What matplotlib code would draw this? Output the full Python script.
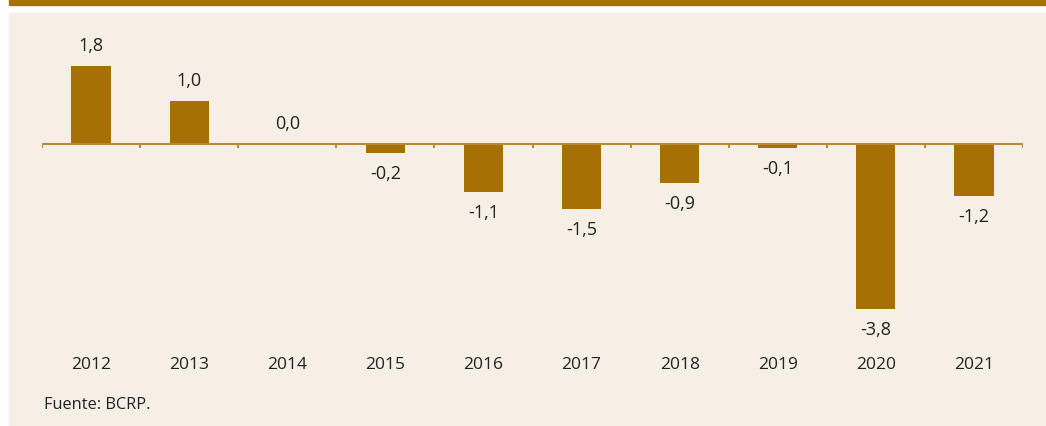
import matplotlib as mpl
mpl.use('Agg')
import matplotlib.pyplot as plt
from matplotlib.patches import Rectangle

years = ['2012', '2013', '2014', '2015', '2016', '2017', '2018', '2019', '2020', '2021']
values = [1.8, 1.0, 0.0, -0.2, -1.1, -1.5, -0.9, -0.1, -3.8, -1.2]
labels = ['1,8', '1,0', '0,0', '-0,2', '-1,1', '-1,5', '-0,9', '-0,1', '-3,8', '-1,2']
source = 'Fuente: BCRP.'

brown = '#A67005'
axis_col = '#B98A3A'
beige = '#F5EFE6'
txt = '#222222'
plt.rcParams['font.family'] = ['Open Sans', 'DejaVu Sans']

W, H = 1046, 427
fig = plt.figure(figsize=(W / 100, H / 100), dpi=100)
fig.patch.set_facecolor('white')

# header band and beige panel
fig.patches.append(Rectangle((9 / W, 1 - 6 / H), 1 - 9 / W, 6 / H,
                             transform=fig.transFigure, color=brown, zorder=-10))
fig.patches.append(Rectangle((9 / W, 0), 1 - 9 / W, 1 - 14 / H,
                             transform=fig.transFigure, color=beige, zorder=-10))

# axes in pixel coordinates: x 42..1023, y 30..335
x0, x1, y0, y1 = 42, 1023, 30, 335
ax = fig.add_axes([x0 / W, 1 - y1 / H, (x1 - x0) / W, (y1 - y0) / H])
ax.set_facecolor('none')
ppu = 43.3
zero_y = 145
ax.set_ylim(-(y1 - zero_y) / ppu, (zero_y - y0) / ppu)
ax.set_xlim(-0.5, len(years) - 0.5)

xs = range(len(years))
ax.bar(xs, values, width=0.4, color=brown, zorder=2)
ax.axhline(0, color=axis_col, lw=1.5, zorder=3)
for b in [i - 0.5 for i in range(len(years) + 1)]:
    ax.plot([b, b], [0, -4 / ppu], color=axis_col, lw=1.5, zorder=3, solid_capstyle='butt')

for x, v, t in zip(xs, values, labels):
    off = 15 if v >= 0 else -14.5
    ax.annotate(t, (x, v), xytext=(0, off), textcoords='offset points',
                ha='center', va='center', fontsize=13, color=txt)

for x, y in zip(xs, years):
    ax.text(x, -(365 - zero_y) / ppu, y, ha='center', va='center', fontsize=12.5, color=txt)

ax.axis('off')
fig.text(44 / W, 1 - 405 / H, source, ha='left', va='center', fontsize=11.8, color=txt)

fig.savefig('out.png', dpi=100, facecolor=fig.get_facecolor())
